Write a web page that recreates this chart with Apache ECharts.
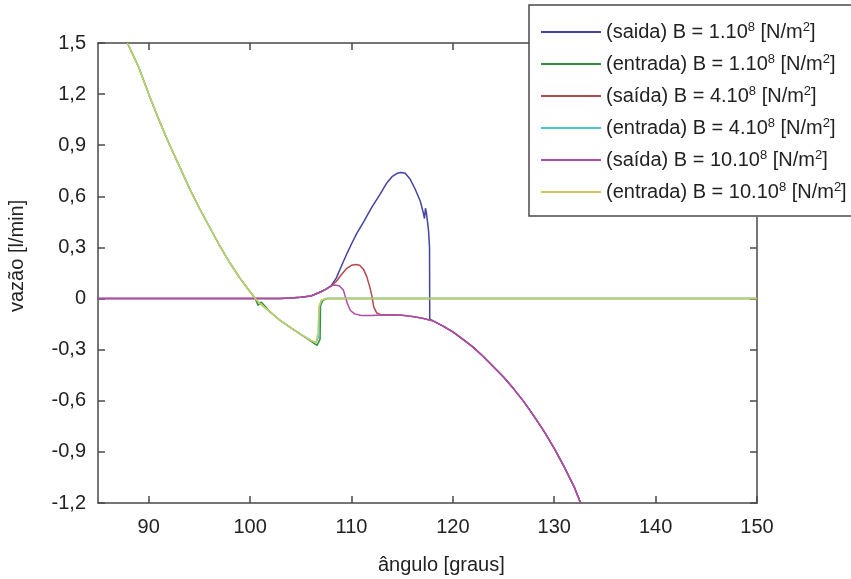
<!DOCTYPE html>
<html>
<head>
<meta charset="utf-8">
<script src="https://cdn.jsdelivr.net/npm/echarts@6/dist/echarts.min.js"></script>
<style>
  html, body { margin: 0; padding: 0; background: #fff; }
  #chart { width: 851px; height: 579px; }
</style>
</head>
<body>
<div id="chart"></div>
<script>
// ticks
const xTicks = [90, 100, 110, 120, 130, 140, 150];

// legendas (nomes das séries)
const nomes = [
  '(saida) B = 1.10^8 [N/m^2]',
  '(entrada) B = 1.10^8 [N/m^2]',
  '(saída) B = 4.10^8 [N/m^2]',
  '(entrada) B = 4.10^8 [N/m^2]',
  '(saída) B = 10.10^8 [N/m^2]',
  '(entrada) B = 10.10^8 [N/m^2]'
];
const cores = ['#4343a6', '#2f8f3a', '#b5484c', '#4cc6ca', '#aa4eaa', '#cccc5e'];

// entrada: trecho comum descendente [ângulo, vazão]
const entradaQueda = [
  [87.9, 1.5], [89, 1.36], [90, 1.2], [91, 1.05], [92, 0.91], [93, 0.78],
  [94, 0.65], [95, 0.53], [96, 0.42], [97, 0.31], [98, 0.21], [99, 0.12],
  [100, 0.04], [100.5, 0.0], [101, -0.03], [102, -0.08], [103, -0.13],
  [104, -0.17], [105, -0.21], [106, -0.245]
];
// entrada: vale e salto para zero
const entradaB1 = [[100.5, 0.0], [100.8, -0.04], [101.1, -0.02], [102, -0.08], [103, -0.13], [104, -0.17], [105, -0.21], [106, -0.25], [106.6, -0.275], [106.9, -0.24], [106.95, -0.04], [107.2, -0.01], [107.6, 0], [150, 0]];
const entradaB4 = [[106.5, -0.26], [106.8, -0.22], [106.85, -0.04], [107.1, -0.01], [107.5, 0], [150, 0]];
const entradaB10 = [[106.5, -0.26], [106.7, -0.2], [106.8, -0.05], [107, -0.01], [107.5, 0], [150, 0]];

// saída: trecho inicial comum
const saidaBase = [
  [85, 0], [103, 0], [104, 0.003], [105, 0.008], [106, 0.015], [107, 0.04],
  [107.5, 0.055], [108, 0.075]
];
// saída: bolhas de cada B
const saidaB1 = [
  [108.5, 0.12], [109, 0.19], [109.6, 0.27], [110, 0.32], [110.5, 0.38],
  [111.2, 0.45], [112, 0.535], [112.8, 0.61], [113.5, 0.68], [114, 0.715],
  [114.5, 0.735], [114.9, 0.74], [115.3, 0.735], [115.8, 0.7], [116.3, 0.64],
  [116.8, 0.57], [117.1, 0.5], [117.2, 0.47], [117.3, 0.53], [117.4, 0.5],
  [117.6, 0.4], [117.7, 0.3], [117.72, -0.12]
];
const saidaB4 = [
  [108.5, 0.1], [109, 0.14], [109.5, 0.175], [110, 0.195], [110.4, 0.2],
  [110.8, 0.195], [111.2, 0.17], [111.5, 0.13], [111.8, 0.07], [112, 0.02],
  [112.2, -0.05], [112.5, -0.085]
];
const saidaB10 = [
  [108.3, 0.08], [108.8, 0.075], [109.2, 0.05], [109.4, 0.01], [109.6, -0.03],
  [109.9, -0.07], [110.3, -0.09]
];
// saída: cauda comum descendente
const saidaCauda = [
  [111, -0.1], [112, -0.1], [113, -0.097], [114, -0.095], [115, -0.098],
  [116, -0.105], [117, -0.115], [118, -0.13], [119, -0.16], [120, -0.195],
  [121, -0.24], [122, -0.285], [123, -0.34], [124, -0.4], [125, -0.46],
  [126, -0.53], [127, -0.605], [128, -0.69], [129, -0.78], [130, -0.88],
  [131, -0.99], [132, -1.11], [132.6, -1.2]
];

const cauda = (x0) => saidaCauda.filter(p => p[0] >= x0);
const antes = (x1) => entradaQueda.filter(p => p[0] < x1);

const dados = [
  saidaBase.concat(saidaB1, cauda(118)),
  antes(100.5).concat(entradaB1),
  saidaBase.concat(saidaB4, cauda(113)),
  antes(106.5).concat(entradaB4),
  saidaBase.concat(saidaB10, cauda(111)),
  antes(106.5).concat(entradaB10)
];

const fonte = 'Liberation Sans, Arial, sans-serif';
const eixo = { color: '#4a4a4a', width: 1.5 };
const fmtY = v => {
  const r = Math.round(v * 10) / 10;
  return r === 0 ? '0' : String(r).replace('.', ',');
};

const chart = echarts.init(document.getElementById('chart'));
chart.setOption({
  animation: false,
  backgroundColor: '#fff',
  grid: { left: 98, right: 94, top: 43, bottom: 76 },
  xAxis: [
    {
      type: 'value', min: 85, max: 150, position: 'bottom',
      axisLine: { show: true, onZero: false, lineStyle: eixo },
      axisTick: { show: true, inside: true, length: 7, customValues: xTicks, lineStyle: eixo },
      axisLabel: { customValues: xTicks, margin: 14, fontSize: 20, color: '#222', fontFamily: fonte },
      splitLine: { show: false }
    },
    {
      type: 'value', min: 85, max: 150, position: 'top',
      axisLine: { show: true, onZero: false, lineStyle: eixo },
      axisTick: { show: true, inside: true, length: 7, customValues: xTicks, lineStyle: eixo },
      axisLabel: { show: false },
      splitLine: { show: false }
    }
  ],
  yAxis: [
    {
      type: 'value', min: -1.2, max: 1.5, interval: 0.3, position: 'left',
      axisLine: { show: true, onZero: false, lineStyle: eixo },
      axisTick: { show: true, inside: true, length: 7, lineStyle: eixo },
      axisLabel: { formatter: fmtY, margin: 12, fontSize: 20, color: '#222', fontFamily: fonte },
      splitLine: { show: false }
    },
    {
      type: 'value', min: -1.2, max: 1.5, interval: 0.3, position: 'right',
      axisLine: { show: true, onZero: false, lineStyle: eixo },
      axisTick: { show: true, inside: true, length: 7, lineStyle: eixo },
      axisLabel: { show: false },
      splitLine: { show: false }
    }
  ],
  legend: {
    orient: 'vertical', left: 529, top: 5,
    padding: [16, 4, 14, 11],
    itemGap: 10, itemWidth: 60, itemHeight: 14,
    backgroundColor: '#fff', borderWidth: 0,
    itemStyle: { opacity: 0 },
    data: nomes,
    formatter: n => n.replace(/\^(\d+)/g, '{sup|$1}'),
    textStyle: {
      fontSize: 20, color: '#222', fontFamily: fonte, lineHeight: 22,
      rich: { sup: { fontSize: 13, verticalAlign: 'top', fontFamily: fonte, color: '#222' } }
    }
  },
  graphic: [
    // moldura da legenda, que sai pela borda direita
    { type: 'rect', z: 10, shape: { x: 529, y: 5, width: 340, height: 211 }, style: { fill: 'transparent', stroke: '#4a4a4a', lineWidth: 1.5 } },
    { type: 'text', left: 378, top: 555, style: { text: 'ângulo [graus]', fontSize: 20, fill: '#222', fontFamily: fonte } },
    { type: 'text', x: 7, y: 312, rotation: Math.PI / 2, style: { text: 'vazão [l/min]', fontSize: 20, fill: '#222', fontFamily: fonte } }
  ],
  series: nomes.map((n, i) => ({
    name: n, type: 'line', data: dados[i], symbol: 'none',
    lineStyle: { color: cores[i], width: 1.5 }, itemStyle: { color: cores[i] }
  }))
});
</script>
</body>
</html>
